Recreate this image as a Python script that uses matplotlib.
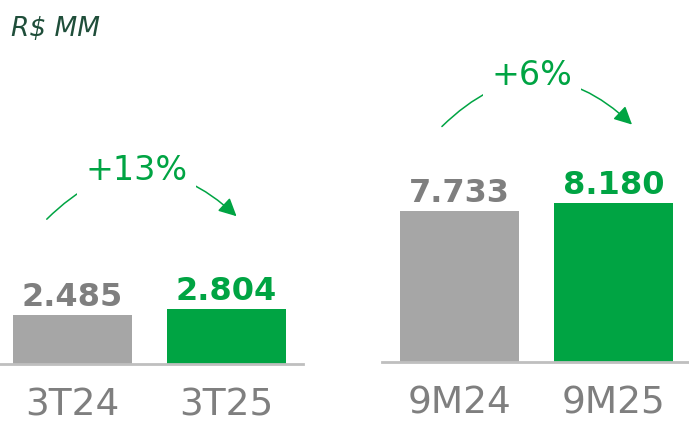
import matplotlib
matplotlib.use("Agg")
import matplotlib.pyplot as plt

# data
quarter_labels = ["3T24", "3T25"]
quarter_values = [2.485, 2.804]
ytd_labels = ["9M24", "9M25"]
ytd_values = [7.733, 8.180]
quarter_growth = "+13%"
ytd_growth = "+6%"

GREEN = "#00A443"
GRAY_BAR = "#A6A6A6"
GRAY_TXT = "#7F7F7F"
LINE = "#BFBFBF"

W, H = 689, 424
fig = plt.figure(figsize=(W / 100, H / 100), dpi=100)

YMAX = 18.6


def draw_group(rect, labels, values, xlim, growth, arc_start, arc_end, text_pos):
    ax = fig.add_axes(rect)
    colors = [GRAY_BAR, GREEN]
    x = range(len(values))
    ax.bar(x, values, width=0.773, color=colors)
    ax.set_xlim(*xlim)
    ax.set_ylim(0, YMAX)
    for side in ["top", "right", "left"]:
        ax.spines[side].set_visible(False)
    ax.spines["bottom"].set_color(LINE)
    ax.spines["bottom"].set_linewidth(2)
    ax.set_yticks([])
    ax.set_xticks(list(x))
    ax.set_xticklabels(labels, fontsize=27, color=GRAY_TXT)
    ax.tick_params(axis="x", length=0, pad=17)
    for i, v in enumerate(values):
        ax.annotate(f"{v:.3f}", (i, v), xytext=(0, 1.5), textcoords="offset points",
                    ha="center", va="bottom", fontsize=23, fontweight="bold",
                    color=[GRAY_TXT, GREEN][i])
    ax.annotate("", xy=arc_end, xytext=arc_start,
                arrowprops=dict(arrowstyle="-|>", color=GREEN, lw=1.1,
                                mutation_scale=27,
                                connectionstyle="arc3,rad=-0.48",
                                shrinkA=0, shrinkB=0))
    ax.text(*text_pos, growth, ha="center", va="center", fontsize=24,
            color=GREEN, bbox=dict(fc="white", ec="none", pad=6))
    return ax


draw_group([0, 60 / H, 303 / W, 364 / H], quarter_labels, quarter_values,
           (-0.47, 1.50), quarter_growth, (-0.166, 7.4), (1.068, 7.55), (0.42, 9.9))
draw_group([382 / W, 62 / H, 307 / W, 362 / H], ytd_labels, ytd_values,
           (-0.503, 1.49), ytd_growth, (-0.114, 12.1), (1.12, 12.2), (0.47, 14.7))

fig.text(11 / W, 1 - 36 / H, "R$ MM", fontsize=19, style="italic",
         color="#1F4E3A", ha="left", va="baseline")

fig.savefig("out.png", dpi=100)
